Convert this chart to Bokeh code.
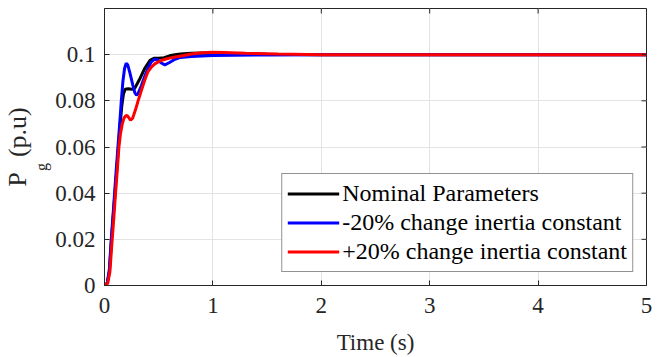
import numpy as np
from bokeh.plotting import figure
from bokeh.models import Range1d, Legend, LegendItem, FixedTicker, Title
from bokeh.embed import file_html
from bokeh.resources import INLINE

# ---- data ----
t_nom = [0, 0.025, 0.045, 0.065, 0.08, 0.097, 0.113, 0.128, 0.145, 0.16, 0.175, 0.19,
         0.22, 0.25, 0.28, 0.32, 0.37, 0.42, 0.46, 0.5, 0.55, 0.6, 0.65, 0.7, 0.8, 0.9,
         1.0, 1.2, 1.5, 2.0, 3.0, 4.0, 5.0]
p_nom = [0, 0.001, 0.006, 0.02, 0.03, 0.04, 0.05, 0.06, 0.07, 0.078, 0.083, 0.085,
         0.0852, 0.085, 0.0855, 0.089, 0.094, 0.0975, 0.0985, 0.0985, 0.0987, 0.0995, 0.1, 0.1003, 0.1006, 0.1007,
         0.1006, 0.1004, 0.1002, 0.1, 0.1, 0.1, 0.1]

t_minus = [0, 0.025, 0.045, 0.062, 0.078, 0.093, 0.108, 0.124, 0.14, 0.155, 0.17, 0.185, 0.2,
           0.215, 0.235, 0.26, 0.28, 0.295, 0.31, 0.34, 0.37, 0.4, 0.43, 0.46, 0.49, 0.52,
           0.557, 0.6, 0.65, 0.7, 0.8, 0.9, 1.0, 1.2, 1.5, 2.0, 3.0, 4.0, 5.0]
p_minus = [0, 0.001, 0.007, 0.02, 0.03, 0.04, 0.05, 0.06, 0.07, 0.08, 0.0885, 0.094, 0.0963,
           0.0955, 0.092, 0.087, 0.0835, 0.0825, 0.0832, 0.0865, 0.0905, 0.094, 0.0968, 0.098, 0.0978, 0.0965,
           0.0956, 0.0966, 0.098, 0.0988, 0.0992, 0.0994, 0.0996, 0.0998, 0.0999, 0.1, 0.1, 0.1, 0.1]

t_plus = [0, 0.03, 0.05, 0.071, 0.087, 0.102, 0.118, 0.133, 0.148, 0.164, 0.18, 0.195, 0.207,
          0.22, 0.24, 0.26, 0.285, 0.31, 0.34, 0.37, 0.4, 0.43, 0.464, 0.5, 0.526, 0.56,
          0.6, 0.65, 0.73, 0.8, 0.9, 1.0, 1.1, 1.3, 1.6, 2.0, 3.0, 4.0, 5.0]
p_plus = [0, 0.001, 0.006, 0.02, 0.03, 0.04, 0.05, 0.06, 0.066, 0.07, 0.0725, 0.0735, 0.0737,
          0.073, 0.0716, 0.0725, 0.076, 0.080, 0.0845, 0.0888, 0.0925, 0.0945, 0.096, 0.097, 0.0975, 0.098,
          0.0985, 0.099, 0.0996, 0.1003, 0.1008, 0.101, 0.1009, 0.1006, 0.1003, 0.1, 0.1, 0.1, 0.1]

x_ticks = [0, 1, 2, 3, 4, 5]
y_ticks = [0, 0.02, 0.04, 0.06, 0.08, 0.1]
y_tick_labels = {0: "0", 0.02: "0.02", 0.04: "0.04", 0.06: "0.06", 0.08: "0.08", 0.1: "0.1"}
legend_labels = ["Nominal Parameters", "-20% change inertia constant", "+20% change inertia constant"]

FONT = "Liberation Serif"
AX = "#262626"

p = figure(width=659, height=357, output_backend="svg", toolbar_location=None,
           x_range=Range1d(0, 5), y_range=Range1d(0, 0.12),
           min_border_left=103, min_border_right=13, min_border_top=8, min_border_bottom=71)
p.outline_line_color = AX

p.xgrid.ticker = FixedTicker(ticks=x_ticks)
p.ygrid.ticker = FixedTicker(ticks=y_ticks)
p.grid.grid_line_color = "#e3e3e3"

r1 = p.line(t_nom, p_nom, line_color="black", line_width=3)
r2 = p.line(t_minus, p_minus, line_color="#0000FF", line_width=3)
r3 = p.line(t_plus, p_plus, line_color="#FF0000", line_width=3)

# inward ticks on the top and right edges of the box
p.ray(x=x_ticks, y=[p.y_range.end] * len(x_ticks), length=5, length_units="screen",
      angle=-np.pi / 2, line_color=AX, line_width=1)
p.ray(x=[p.x_range.end] * len(y_ticks), y=y_ticks, length=5, length_units="screen",
      angle=np.pi, line_color=AX, line_width=1)

p.xaxis.ticker = FixedTicker(ticks=x_ticks)
p.yaxis.ticker = FixedTicker(ticks=y_ticks)
p.yaxis.major_label_overrides = y_tick_labels

p.xaxis.major_label_standoff = 12
p.yaxis.major_label_standoff = 9
p.xaxis.axis_line_color = AX
p.yaxis.axis_line_color = AX
p.xaxis.major_tick_line_color = AX
p.yaxis.major_tick_line_color = AX
p.xaxis.major_tick_in = 5
p.yaxis.major_tick_in = 5
p.xaxis.major_tick_out = 0
p.yaxis.major_tick_out = 0
p.xaxis.minor_tick_line_color = None
p.yaxis.minor_tick_line_color = None

p.xaxis.axis_label = "Time (s)"
p.xaxis.axis_label_text_font = FONT
p.xaxis.axis_label_text_font_size = "23px"
p.xaxis.axis_label_text_font_style = "normal"
p.xaxis.axis_label_text_color = AX
p.xaxis.axis_label_standoff = 14

# y-axis label  P_g (p.u): subscript in its own panel next to the axis
p.add_layout(Title(text="g\u2003\u2003\u2002", align="center", standoff=2, vertical_align="top",
                   text_font=FONT, text_font_size="16px", text_font_style="normal",
                   text_color=AX), "left")
p.add_layout(Title(text="P\u2002\u200a(p.u)", align="center", standoff=0, text_font=FONT,
                   text_font_size="26px", text_font_style="normal", text_color=AX), "left")

legend = Legend(items=[LegendItem(label=legend_labels[0], renderers=[r1]),
                       LegendItem(label=legend_labels[1], renderers=[r2]),
                       LegendItem(label=legend_labels[2], renderers=[r3])],
                location="bottom_right")
legend.glyph_width = 52
legend.glyph_height = 29
legend.label_height = 29
legend.label_standoff = 3
legend.spacing = 0
legend.padding = 5
legend.margin = 13
legend.border_line_color = AX
p.add_layout(legend)

# text styles for tick labels and legend, set last and with an explicit style
for ax in list(p.xaxis) + list(p.yaxis):
    ax.major_label_text_font = FONT
    ax.major_label_text_font_style = "normal"
    ax.major_label_text_font_size = "23px"
    ax.major_label_text_color = AX
legend.label_text_font = FONT
legend.label_text_font_style = "normal"
legend.label_text_font_size = "24px"
legend.label_text_color = "black"

open("out.html", "w").write(file_html(p, INLINE))
